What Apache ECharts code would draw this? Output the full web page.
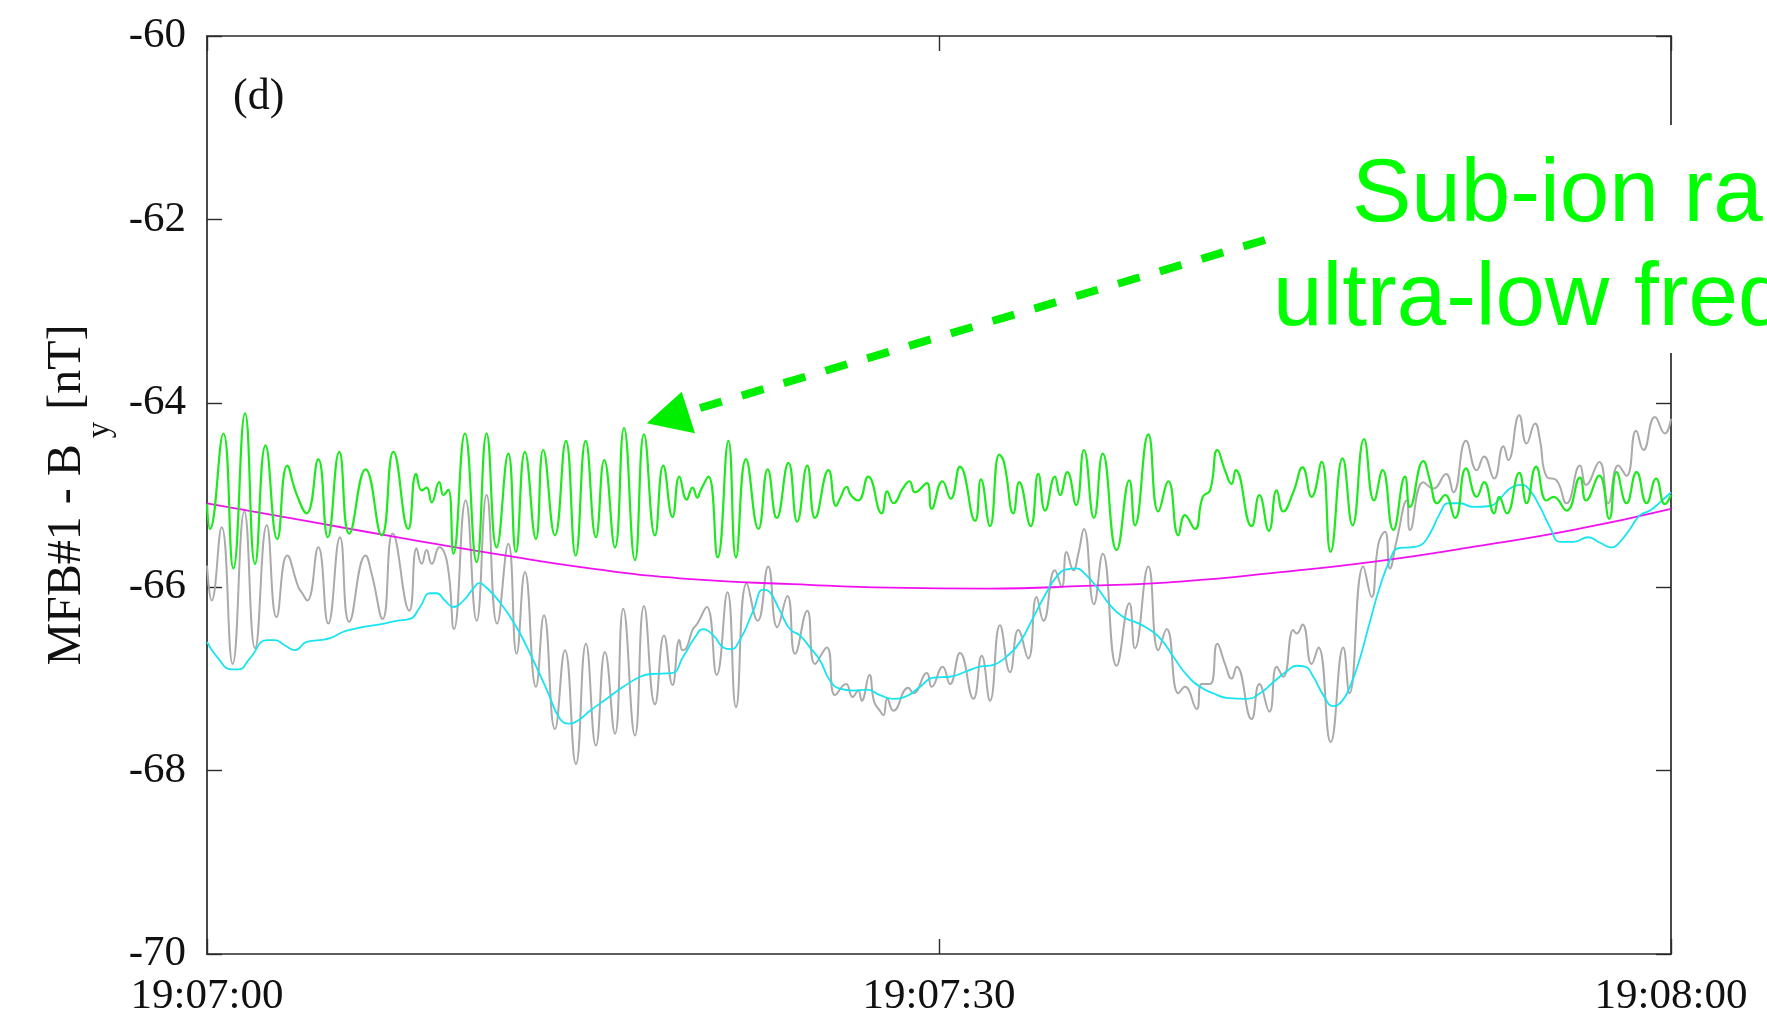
<!DOCTYPE html>
<html>
<head>
<meta charset="utf-8">
<title>MFB#1 - By</title>
<script src="https://cdn.jsdelivr.net/npm/echarts/dist/echarts.min.js"></script>
<style>
  html, body { margin: 0; padding: 0; background: #ffffff; }
  #chart { width: 1767px; height: 1020px; }
</style>
</head>
<body>
<div id="chart"></div>
<script>
// Time axis: seconds after 19:07:00, ticks every 30 s
const timeLabels = ['19:07:00', '19:07:30', '19:08:00'];

// Raw B_y component [s, nT]
const rawBy = [
  [0.00,-65.77],[0.19,-66.15],[0.60,-65.35],[1.05,-66.84],[1.53,-65.18],[1.97,-66.67],[2.45,-65.33],[2.85,-66.33],
  [3.29,-65.66],[3.74,-66.00],[3.88,-66.06],[4.11,-66.15],[4.56,-65.57],[4.97,-66.40],[5.45,-65.46],[5.83,-66.38],
  [6.50,-65.66],[6.75,-65.86],[7.20,-66.35],[7.61,-65.42],[8.29,-66.26],[8.59,-65.58],[8.80,-65.75],[9.00,-65.60],
  [9.21,-65.75],[9.52,-65.57],[9.85,-65.75],[10.12,-66.46],[10.60,-65.06],[11.05,-66.37],[11.46,-65.00],[11.89,-66.40],
  [12.35,-65.53],[12.69,-66.73],[13.03,-65.84],[13.48,-67.09],[13.81,-66.31],[14.26,-67.55],[14.67,-66.69],[15.12,-67.93],
  [15.53,-66.62],[15.94,-67.73],[16.31,-66.71],[16.72,-67.60],[17.06,-66.24],[17.54,-67.62],[17.91,-66.21],[18.36,-67.28],
  [18.73,-66.53],[19.08,-67.07],[19.36,-66.58],[19.49,-66.69],[19.66,-66.66],[19.90,-66.47],[20.10,-66.40],[20.48,-66.22],
  [20.89,-66.96],[21.33,-66.06],[21.68,-67.31],[22.12,-65.96],[22.57,-66.37],[23.00,-65.78],[23.37,-66.44],[23.79,-66.10],
  [24.10,-66.73],[24.60,-66.26],[24.92,-66.84],[25.40,-66.66],[25.74,-67.18],[26.19,-67.06],[26.46,-67.20],[26.69,-67.13],
  [26.83,-67.24],[27.15,-66.96],[27.34,-67.25],[27.58,-67.35],[27.72,-67.40],[27.88,-67.22],[28.13,-67.35],[28.74,-67.10],
  [28.95,-67.16],[29.50,-66.94],[29.70,-67.09],[30.15,-66.87],[30.45,-67.06],[30.86,-66.72],[31.41,-67.22],[31.75,-66.75],
  [32.09,-67.24],[32.50,-66.42],[32.91,-66.93],[33.25,-66.47],[33.66,-66.78],[34.00,-66.11],[34.28,-66.37],[34.75,-65.82],
  [35.03,-66.00],[35.23,-65.62],[35.51,-65.82],[35.71,-65.64],[35.94,-65.37],[36.35,-66.19],[36.71,-65.64],[37.28,-66.86],
  [37.80,-66.18],[38.03,-66.67],[38.58,-65.78],[38.99,-66.69],[39.33,-66.46],[39.81,-67.16],[40.08,-67.09],[40.56,-67.33],
  [40.77,-67.06],[41.11,-67.06],[41.41,-66.62],[41.72,-66.84],[41.99,-67.00],[42.20,-66.87],[42.81,-67.44],[43.13,-67.06],
  [43.54,-67.36],[43.84,-66.87],[44.11,-66.98],[44.52,-66.47],[44.66,-66.51],[44.90,-66.41],[45.27,-66.84],[45.55,-66.66],
  [46.05,-67.69],[46.57,-66.66],[46.82,-67.16],[47.39,-65.78],[47.73,-66.11],[48.01,-65.53],[48.28,-65.40],[48.48,-65.80],
  [48.76,-65.49],[49.17,-65.06],[49.30,-65.38],[49.85,-64.86],[50.26,-64.93],[50.78,-64.77],[51.08,-64.97],[51.60,-64.41],
  [52.04,-64.73],[52.34,-64.58],[52.75,-64.82],[53.13,-64.47],[53.33,-64.62],[53.78,-64.13],[54.08,-64.44],[54.43,-64.22],
  [54.63,-64.40],[54.90,-64.80],[55.31,-64.84],[55.72,-65.09],[56.27,-64.68],[56.52,-64.89],[57.06,-64.64],[57.43,-65.09],
  [57.84,-64.68],[58.18,-64.79],[58.57,-64.30],[58.87,-64.51],[59.34,-64.15],[59.75,-64.33],[60.00,-64.17]
];

// Low-pass filtered B_y [s, nT]
const lowPassBy = [
  [0.00,-66.60],[0.40,-66.76],[1.01,-66.90],[1.28,-66.90],[1.76,-66.78],[2.45,-66.58],[2.79,-66.58],[3.20,-66.64],
  [3.61,-66.69],[4.08,-66.60],[4.63,-66.58],[5.04,-66.56],[5.59,-66.49],[6.00,-66.46],[6.54,-66.43],[7.09,-66.41],
  [7.77,-66.37],[8.32,-66.35],[8.73,-66.22],[9.14,-66.07],[9.41,-66.07],[9.75,-66.15],[10.10,-66.22],[10.51,-66.15],
  [10.91,-66.02],[11.16,-65.96],[11.46,-66.01],[12.01,-66.17],[12.69,-66.44],[13.37,-66.80],[13.99,-67.16],[14.47,-67.44],
  [14.88,-67.49],[15.29,-67.44],[15.70,-67.35],[16.38,-67.22],[17.06,-67.09],[17.75,-66.98],[18.16,-66.95],[19.04,-66.94],
  [19.52,-66.76],[20.00,-66.55],[20.34,-66.46],[20.75,-66.53],[21.16,-66.66],[21.46,-66.68],[21.84,-66.58],[22.39,-66.26],
  [22.80,-66.03],[23.07,-66.06],[23.48,-66.26],[23.89,-66.46],[24.30,-66.53],[24.71,-66.66],[25.12,-66.80],[25.53,-67.02],
  [25.94,-67.11],[26.49,-67.13],[27.04,-67.12],[27.58,-67.18],[28.13,-67.22],[28.68,-67.19],[29.22,-67.09],[29.77,-66.99],
  [30.45,-66.98],[31.13,-66.92],[31.68,-66.87],[32.23,-66.85],[32.77,-66.76],[33.32,-66.60],[33.87,-66.33],[34.41,-66.06],
  [34.82,-65.89],[35.23,-65.81],[35.64,-65.80],[35.98,-65.86],[36.46,-66.00],[37.01,-66.20],[37.55,-66.33],[38.10,-66.39],
  [38.65,-66.47],[39.13,-66.58],[39.60,-66.76],[40.15,-66.96],[40.70,-67.09],[41.24,-67.16],[41.79,-67.21],[42.61,-67.22],
  [43.16,-67.16],[43.70,-67.04],[44.25,-66.92],[44.66,-66.86],[45.00,-66.87],[45.34,-66.98],[45.75,-67.18],[46.16,-67.30],
  [46.50,-67.25],[46.84,-67.09],[47.25,-66.78],[47.66,-66.38],[48.07,-66.00],[48.48,-65.71],[48.82,-65.58],[49.30,-65.57],
  [49.71,-65.55],[50.12,-65.42],[50.53,-65.20],[50.87,-65.09],[51.35,-65.09],[51.90,-65.13],[52.58,-65.12],[52.99,-65.04],
  [53.40,-64.93],[53.88,-64.89],[54.22,-64.95],[54.63,-65.13],[55.04,-65.35],[55.45,-65.51],[56.00,-65.51],[56.61,-65.46],
  [57.09,-65.52],[57.57,-65.57],[57.91,-65.51],[58.32,-65.37],[58.73,-65.22],[59.14,-65.17],[59.55,-65.08],[60.00,-64.97]
];

// Slow background trend [s, nT]
const trendBy = [
  [0,-65.09],[4,-65.28],[8,-65.47],[12,-65.65],[16,-65.81],[20,-65.92],[24,-65.97],[28,-66.01],
  [32,-66.02],[36,-65.99],[40,-65.94],[44,-65.84],[48,-65.72],[52,-65.56],[56,-65.38],[60,-65.15]
];

// Band-pass fluctuation added to the trend level [s, nT]
const waveBy = [
  [0.00,-65.10],[0.12,-65.37],[0.67,-64.33],[1.08,-65.80],[1.56,-64.11],[1.97,-65.75],[2.40,-64.46],[2.88,-65.48],
  [3.29,-64.68],[3.67,-64.99],[4.08,-65.20],[4.56,-64.61],[4.95,-65.46],[5.42,-64.53],[5.83,-65.42],[6.50,-64.72],
  [7.16,-65.44],[7.64,-64.53],[8.25,-65.37],[8.57,-64.77],[8.80,-64.95],[9.00,-64.92],[9.21,-65.08],[9.52,-64.86],
  [9.69,-65.00],[9.89,-64.94],[10.10,-65.64],[10.57,-64.33],[11.05,-65.73],[11.46,-64.33],[11.87,-65.57],[12.35,-64.55],
  [12.66,-65.62],[13.03,-64.53],[13.48,-65.48],[13.78,-64.51],[14.26,-65.44],[14.71,-64.41],[15.11,-65.66],[15.52,-64.41],
  [15.94,-65.46],[16.28,-64.62],[16.72,-65.57],[17.09,-64.27],[17.54,-65.71],[17.91,-64.34],[18.36,-65.44],[18.70,-64.68],
  [19.08,-65.24],[19.36,-64.80],[19.66,-65.05],[19.90,-64.92],[20.10,-65.03],[20.23,-64.95],[20.55,-64.80],[20.93,-65.68],
  [21.37,-64.41],[21.68,-65.68],[22.09,-64.61],[22.60,-65.37],[22.98,-64.72],[23.35,-65.25],[23.83,-64.65],[24.19,-65.29],
  [24.60,-64.68],[24.92,-65.25],[25.47,-64.73],[25.78,-65.12],[25.94,-65.04],[26.22,-64.91],[26.38,-65.00],[26.69,-65.06],
  [27.10,-64.80],[27.65,-65.20],[27.88,-64.96],[28.13,-65.09],[28.54,-64.92],[28.79,-64.85],[29.02,-64.97],[29.50,-64.87],
  [29.70,-65.15],[30.14,-64.85],[30.48,-65.04],[30.86,-64.69],[31.48,-65.28],[31.72,-64.83],[32.09,-65.34],[32.47,-64.56],
  [32.66,-64.64],[33.05,-65.20],[33.29,-64.86],[33.76,-65.34],[34.07,-64.77],[34.35,-65.17],[34.75,-64.80],[34.96,-65.00],
  [35.26,-64.75],[35.62,-65.11],[35.94,-64.51],[36.35,-65.25],[36.71,-64.55],[37.28,-65.60],[37.80,-64.84],[38.03,-65.33],
  [38.58,-64.34],[38.99,-65.18],[39.40,-64.85],[39.81,-65.44],[40.08,-65.22],[40.49,-65.37],[40.81,-65.02],[41.11,-64.95],
  [41.41,-64.51],[41.72,-64.73],[41.99,-64.88],[42.16,-64.73],[42.81,-65.34],[43.13,-65.00],[43.52,-65.39],[43.84,-64.95],
  [44.11,-65.18],[44.52,-64.97],[44.90,-64.70],[45.27,-65.02],[45.68,-64.64],[46.05,-65.62],[46.54,-64.60],[46.95,-65.33],
  [47.42,-64.39],[47.83,-65.06],[48.18,-64.73],[48.62,-65.38],[49.10,-64.80],[49.30,-65.13],[49.85,-64.63],[50.12,-64.84],
  [50.42,-65.09],[50.74,-65.00],[51.15,-65.25],[51.60,-64.71],[52.04,-65.02],[52.34,-64.86],[52.75,-65.20],[52.96,-65.02],
  [53.27,-65.20],[53.78,-64.76],[54.08,-65.09],[54.47,-64.69],[54.90,-65.06],[55.18,-65.02],[55.72,-65.17],[56.27,-64.81],
  [56.52,-65.06],[57.06,-64.79],[57.47,-65.26],[57.77,-64.75],[58.18,-65.09],[58.59,-64.75],[59.00,-65.09],[59.39,-64.82],
  [59.75,-65.10],[60.00,-65.00]
];

const serif = '"Liberation Serif", "Times New Roman", Times, serif';
const sans = '"Liberation Sans", Arial, Helvetica, sans-serif';
const axisColor = '#2a2a2a';
const textColor = '#111111';
const noteGreen = '#00ee00';

const axisLine = { show: true, onZero: false, lineStyle: { color: axisColor, width: 1.7 } };
const axisTick = { show: true, inside: true, length: 15, lineStyle: { color: axisColor, width: 1.4 } };

function lineSeries(name, data, color, width, smooth) {
  return {
    name: name,
    type: 'line',
    data: data,
    showSymbol: false,
    symbol: 'none',
    smooth: smooth,
    sampling: null,
    silent: true,
    lineStyle: { color: color, width: width },
    itemStyle: { color: color }
  };
}

const chart = echarts.init(document.getElementById('chart'), null, { renderer: 'canvas' });

chart.setOption({
  animation: false,
  backgroundColor: '#ffffff',
  grid: { left: 207, right: 96, top: 36, bottom: 66, containLabel: false },
  xAxis: [
    {
      type: 'value', min: 0, max: 60, interval: 30, position: 'bottom',
      axisLine: axisLine, axisTick: axisTick, splitLine: { show: false },
      axisLabel: {
        margin: 21, fontFamily: serif, fontSize: 43, color: textColor,
        formatter: function (v) { return timeLabels[Math.round(v / 30)]; }
      }
    },
    {
      type: 'value', min: 0, max: 60, interval: 30, position: 'top',
      axisLine: axisLine, axisTick: axisTick, splitLine: { show: false },
      axisLabel: { show: false }
    }
  ],
  yAxis: [
    {
      type: 'value', min: -70, max: -60, interval: 2, position: 'left',
      axisLine: axisLine, axisTick: axisTick, splitLine: { show: false },
      axisLabel: { margin: 21, fontFamily: serif, fontSize: 43, color: textColor },
      name: '{a|MFB#1 - B}{s|y}{a| [nT]}',
      nameLocation: 'middle',
      nameRotate: 90,
      nameGap: 90,
      nameTextStyle: {
        fontFamily: serif, fontSize: 48, color: textColor,
        rich: {
          a: { fontFamily: serif, fontSize: 48, color: textColor, lineHeight: 48, verticalAlign: 'top' },
          s: { fontFamily: serif, fontSize: 33, color: textColor, lineHeight: 74, verticalAlign: 'bottom', padding: [0, 0, 0, 6] }
        }
      }
    },
    {
      type: 'value', min: -70, max: -60, interval: 2, position: 'right',
      axisLine: axisLine, axisTick: axisTick, splitLine: { show: false },
      axisLabel: { show: false }
    }
  ],
  series: [
    lineSeries('B_y', rawBy, '#aaaaaa', 2.0, 0.5),
    lineSeries('trend', trendBy, '#f010f0', 1.8, 0.5),
    lineSeries('low-pass', lowPassBy, '#18e4f0', 1.8, 0.5),
    lineSeries('wave', waveBy, '#1ee81e', 2.2, 0.5)
  ],
  graphic: [
    {
      type: 'text', z: 100,
      style: { text: '(d)', x: 233, y: 97, font: '44px ' + serif, fill: textColor,
               textAlign: 'left', textVerticalAlign: 'middle', verticalAlign: 'middle' }
    },
    {
      type: 'rect', z: 100,
      shape: { x: 1270, y: 125, width: 497, height: 228 },
      style: { fill: '#ffffff' }
    },
    {
      type: 'text', z: 101,
      style: { text: 'Sub-ion range', x: 1352, y: 196, font: '89px ' + sans, fill: '#00ff00',
               textAlign: 'left', textVerticalAlign: 'middle', verticalAlign: 'middle' }
    },
    {
      type: 'text', z: 101,
      style: { text: 'ultra-low frequency', x: 1273, y: 300, font: '89px ' + sans, fill: '#00ff00',
               textAlign: 'left', textVerticalAlign: 'middle', verticalAlign: 'middle' }
    },
    {
      type: 'line', z: 102,
      shape: { x1: 1265, y1: 240, x2: 690, y2: 411 },
      style: { stroke: noteGreen, lineWidth: 8, lineDash: [22.6, 21] }
    },
    {
      type: 'polygon', z: 102,
      shape: { points: [[646.7, 423.3], [681.7, 391.7], [695, 433.3]] },
      style: { fill: noteGreen }
    }
  ]
});
</script>
</body>
</html>
